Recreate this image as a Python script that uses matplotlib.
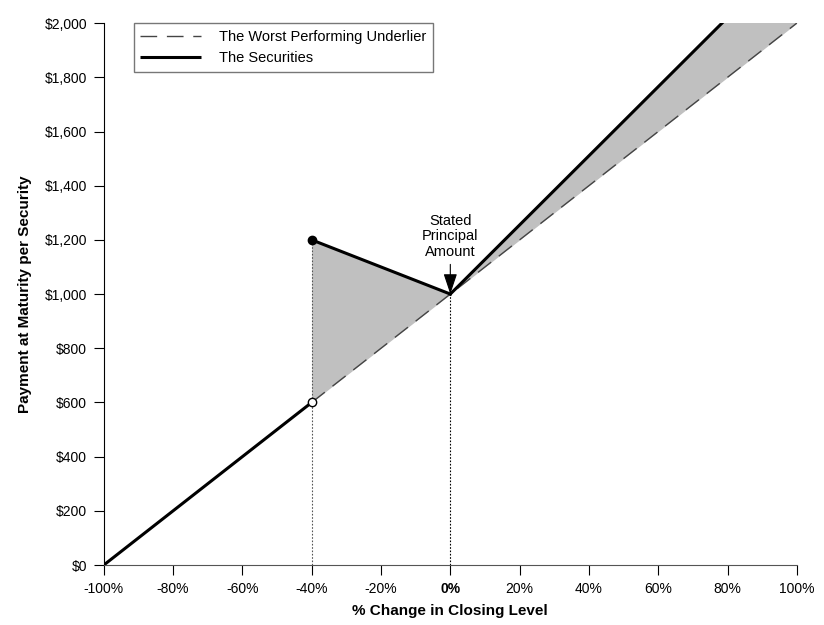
import matplotlib
matplotlib.use("Agg")
import matplotlib.pyplot as plt
import numpy as np

plt.rcParams["font.family"] = ["Liberation Sans", "DejaVu Sans"]

# Underlier: payment tracks closing level change one to one
underlier_x = [-100, 100]
underlier_y = [0, 2000]

# Securities payoff pieces
downside_x = [-100, -40]
downside_y = [0, 600]
buffer_x = [-40, 0]
buffer_y = [1200, 1000]
upside_x = [0, 78.4]
upside_y = [1000, 2000]

x_ticks = [-100, -80, -60, -40, -20, 0, 20, 40, 60, 80, 100]
y_ticks = [0, 200, 400, 600, 800, 1000, 1200, 1400, 1600, 1800, 2000]

fig = plt.figure(figsize=(8.24, 6.25), dpi=100)
ax = fig.add_axes([0.126, 0.096, 0.841, 0.867])

# shaded regions between the securities and underlier
xs = np.array(buffer_x)
ax.fill_between(xs, buffer_y, np.interp(xs, underlier_x, underlier_y),
                color="#c0c0c0", lw=0, zorder=1)
up_slope = (upside_y[1] - upside_y[0]) / (upside_x[1] - upside_x[0])
xs = np.array([0, 100])
ax.fill_between(xs, upside_y[0] + up_slope * xs,
                np.interp(xs, underlier_x, underlier_y),
                color="#c0c0c0", lw=0, zorder=1)

# reference verticals
ax.plot([-40, -40], [0, 1200], color="#555555", lw=0.8, ls=(0, (1.5, 1.5)), zorder=2)
ax.plot([0, 0], [0, 1000], color="black", lw=0.8, ls=(0, (1.5, 1.5)), zorder=2)

ax.plot(underlier_x, underlier_y, color="#444444", lw=1.0,
        ls=(0, (12, 7)), zorder=3, label="The Worst Performing Underlier")
ax.plot(downside_x, downside_y, color="black", lw=2.2, zorder=4,
        label="The Securities", solid_capstyle="butt")
ax.plot(buffer_x, buffer_y, color="black", lw=2.2, zorder=4)
ax.plot(upside_x + [100], upside_y + [upside_y[0] + up_slope * 100],
        color="black", lw=2.2, zorder=4)

ax.plot(-40, 1200, "o", color="black", ms=6, zorder=5)
ax.plot(-40, 600, "o", mfc="white", mec="black", mew=1, ms=6, zorder=5)

ax.annotate("Stated\nPrincipal\nAmount", xy=(0, 1000), xytext=(0, 1130),
            ha="center", va="bottom", fontsize=10.5, linespacing=1.15,
            arrowprops=dict(arrowstyle="-|>,head_length=1.2,head_width=0.4",
                            color="black", lw=0.8, shrinkA=2, shrinkB=0))

ax.set_xlim(-100, 100)
ax.set_ylim(0, 2000)
ax.set_xticks(x_ticks)
ax.set_xticklabels([f"{t}%" for t in x_ticks], fontsize=10)
ax.get_xticklabels()[5].set_fontweight("bold")
ax.set_yticks(y_ticks)
ax.set_yticklabels([f"${t:,}" for t in y_ticks], fontsize=10)
ax.tick_params(length=7, width=0.8, pad=5)
ax.spines["top"].set_visible(False)
ax.spines["right"].set_visible(False)
ax.spines["bottom"].set_color("#555555")

ax.set_xlabel("% Change in Closing Level", fontsize=11, fontweight="bold", labelpad=6)
ax.set_ylabel("Payment at Maturity per Security", fontsize=11, fontweight="bold", labelpad=9)

leg = ax.legend(loc="upper left", bbox_to_anchor=(0.043, 1.0), fontsize=10.5,
                frameon=True, fancybox=False, borderpad=0.45, borderaxespad=0,
                handlelength=4.2, labelspacing=0.5, handletextpad=1.2)
leg.get_frame().set_edgecolor("#555555")
leg.get_frame().set_linewidth(1.0)

fig.savefig("out.png", dpi=100)
